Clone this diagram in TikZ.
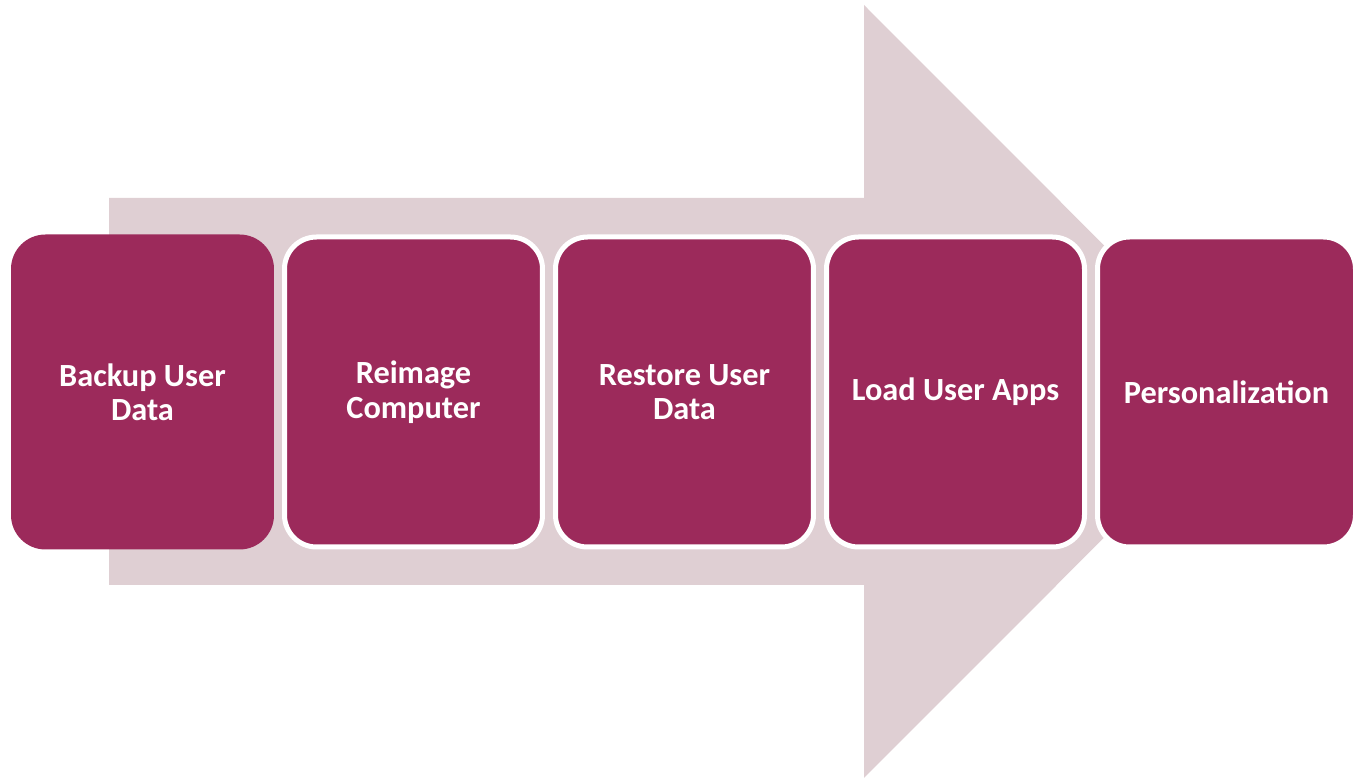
\documentclass[tikz,border=0pt]{standalone}
\usepackage{fontspec}
\setmainfont{Carlito}
\usepackage{tikz}

\definecolor{plum}{RGB}{156,42,91}
\definecolor{blush}{RGB}{223,207,211}

\begin{document}
\begin{tikzpicture}[x=0.1mm, y=-0.1mm,
		step box/.style={shape=rectangle, rounded corners=3.2mm, fill=plum, draw=white, line width=0.5mm,
			minimum width=25.8mm, minimum height=31mm, align=center, text=white,
			font=\fontsize{9.2}{9.8}\selectfont\bfseries},
]

\useasboundingbox (0,0) rectangle (1357,779);

% big background arrow
\fill[blush] (109,198) -- (864,198) -- (864,5) -- (1250,391.5) -- (864,778) -- (864,585) -- (109,585) -- cycle;

\node[step box, draw=plum] (backup) at (142.5,392) {Backup User\\Data};
\node[step box] (reimage) at (413.5,392) {Reimage\\Computer};
\node[step box] (restore) at (684.5,392) {Restore User\\Data};
\node[step box] (apps) at (955.5,392) {Load User Apps};
\node[step box] (person) at (1226.5,392) {Personalization};

\end{tikzpicture}
\end{document}
